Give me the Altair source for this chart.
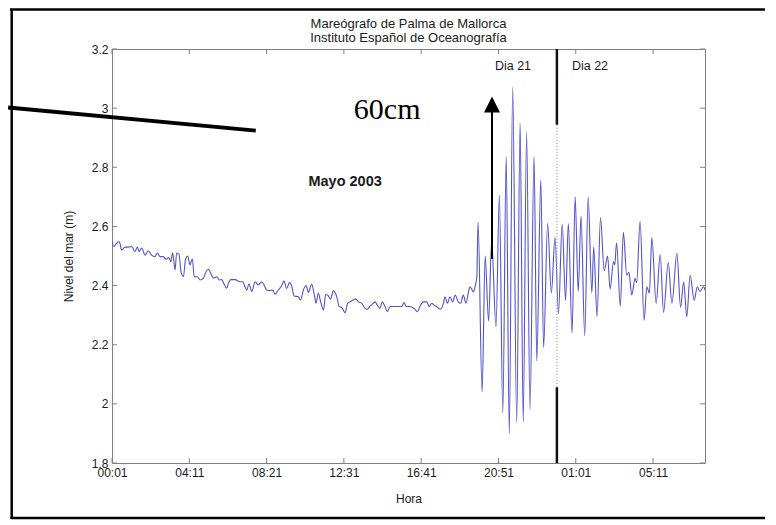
import altair as alt
import pandas as pd

# Sea level record (minutes after 00:01, level in m)
minutes = [0, 6, 15, 24, 31, 42, 53, 64, 74, 82, 88, 96, 107, 117, 128, 139, 147, 155, 166, 175,
           184, 190, 196, 204, 209, 217, 223, 231, 238, 245, 252, 260, 266, 276, 285, 295, 304, 312,
           320, 328, 339, 347, 355, 362, 371, 376, 384, 398, 414, 423, 430, 436, 443, 452, 463, 473,
           484, 492, 500, 511, 520, 527, 538, 549, 556, 565, 574, 581, 589, 603, 610, 619, 628, 635,
           646, 654, 660, 667, 675, 684, 691, 700, 707, 716, 727, 735, 743, 754, 762, 770, 781, 788,
           797, 808, 818, 826, 835, 845, 851, 858, 867, 874, 883, 891, 899, 910, 926, 937, 945, 951,
           962, 977, 988, 996, 1007, 1018, 1026, 1034, 1042, 1050, 1061, 1072, 1077, 1085, 1093,
           1102, 1110, 1120, 1128, 1136, 1145, 1153, 1158, 1169, 1174, 1180,
           1184, 1197, 1207, 1218, 1228, 1242, 1253, 1264, 1275, 1285, 1296, 1309, 1320, 1330, 1341,
           1352, 1365, 1374, 1387, 1396, 1409, 1421, 1433, 1444, 1456, 1467, 1476, 1488, 1498, 1508,
           1517, 1529, 1540, 1552, 1558, 1569, 1580, 1592, 1603, 1611, 1622, 1626, 1632, 1644, 1654,
           1665, 1672, 1681, 1692, 1697, 1708, 1721, 1730, 1738, 1746, 1760, 1773, 1784, 1799, 1811,
           1827, 1839, 1849, 1859, 1870, 1883, 1893, 1902, 1913, 1918]
level = [2.548, 2.532, 2.543, 2.548, 2.52, 2.53, 2.53, 2.532, 2.515, 2.53, 2.515, 2.527, 2.503, 2.518,
         2.503, 2.498, 2.51, 2.498, 2.498, 2.489, 2.495, 2.48, 2.511, 2.453, 2.51, 2.505, 2.447, 2.43,
         2.49, 2.50, 2.47, 2.49, 2.43, 2.43, 2.419, 2.424, 2.447, 2.455, 2.44, 2.425, 2.43, 2.419,
         2.42, 2.406, 2.391, 2.406, 2.42, 2.42, 2.413, 2.413, 2.396, 2.385, 2.406, 2.38, 2.413, 2.402,
         2.413, 2.402, 2.385, 2.383, 2.385, 2.371, 2.385, 2.40, 2.416, 2.39, 2.41, 2.40, 2.365, 2.362,
         2.351, 2.385, 2.40, 2.377, 2.405, 2.37, 2.34, 2.374, 2.345, 2.317, 2.37, 2.365, 2.354, 2.383,
         2.362, 2.329, 2.326, 2.308, 2.34, 2.345, 2.352, 2.355, 2.345, 2.34, 2.323, 2.320, 2.331, 2.34,
         2.345, 2.334, 2.323, 2.345, 2.329, 2.312, 2.329, 2.329, 2.329, 2.329, 2.343, 2.329, 2.329,
         2.323, 2.312, 2.329, 2.345, 2.345, 2.329, 2.34, 2.334, 2.329, 2.32, 2.34, 2.362, 2.34, 2.362,
         2.345, 2.368, 2.345, 2.34, 2.368, 2.34, 2.379, 2.396, 2.379, 2.396, 2.43,
         2.615, 2.04, 2.50, 2.28, 2.55, 2.26, 2.706, 1.969, 2.836, 1.90, 3.072, 1.935, 2.95, 1.94, 2.92,
         1.98, 2.836, 2.145, 2.757, 2.19, 2.61, 2.375, 2.563, 2.305, 2.608, 2.35, 2.61, 2.24, 2.70, 2.38,
         2.635, 2.23, 2.70, 2.375, 2.53, 2.295, 2.63, 2.45, 2.50, 2.388, 2.48, 2.47, 2.545, 2.33, 2.58,
         2.435, 2.445, 2.368, 2.425, 2.41, 2.617, 2.283, 2.396, 2.374, 2.562, 2.34, 2.505, 2.31, 2.478,
         2.34, 2.51, 2.327, 2.412, 2.295, 2.435, 2.35, 2.396, 2.38, 2.396, 2.385]

x_tick_values = [0, 250, 500, 750, 1000, 1250, 1500, 1750]
x_tick_labels = ["00:01", "04:11", "08:21", "12:31", "16:41", "20:51", "01:01", "05:11"]
y_tick_values = [1.8, 2.0, 2.2, 2.4, 2.6, 2.8, 3.0, 3.2]

title_lines = ["Mareógrafo de Palma de Mallorca", "Instituto Español de Oceanografía"]

# text annotations
note_t = [1297, 1546, 754]
note_v = [3.142, 3.142, 2.750]
note_text = ["Dia 21", "Dia 22", "Mayo 2003"]

# day boundary (midnight) segments
day_t = 1439
day_seg_y = [3.2, 2.944, 2.056]
day_seg_y2 = [2.944, 2.056, 1.8]

# 60 cm arrow
arrow_t = 1229
arrow_v = [2.490, 2.987]
arrow_head_v = 3.012

# slide pointer line
pointer_t = [-336, 465]
pointer_v = [3.002, 2.924]

W, H = 593, 414
XMAX = 1918
FONT = "Liberation Sans"
TXT = "#1a1a1a"
GRAY = "#808080"

xs = alt.Scale(domain=[0, XMAX], nice=False, zero=False)
ys = alt.Scale(domain=[1.8, 3.2], nice=False, zero=False)

label_expr = "[" + ",".join("'%s'" % s for s in x_tick_labels) + "][round(datum.value / 250)]"

df = pd.DataFrame({"t": minutes, "v": level})

X = lambda: alt.X("t:Q", scale=xs)
Y = lambda: alt.Y("v:Q", scale=ys)

line = alt.Chart(df).mark_line(color="#5252cc", strokeWidth=1.1, interpolate="monotone", clip=True).encode(
    x=alt.X("t:Q", scale=xs, axis=alt.Axis(values=x_tick_values, labelExpr=label_expr, tickSize=0,
                                            labelFlush=False, domain=False, grid=False, labelFont=FONT,
                                            labelFontSize=12, labelColor=TXT, labelPadding=4,
                                            title="Hora", titleFont=FONT, titleFontSize=12,
                                            titleFontWeight="normal", titleColor=TXT, titlePadding=15)),
    y=alt.Y("v:Q", scale=ys, axis=alt.Axis(values=y_tick_values, format="~g", tickSize=0, domain=False,
                                            grid=False, labelFont=FONT, labelFontSize=12, labelColor=TXT,
                                            labelPadding=4, title="Nivel del mar (m)", titleFont=FONT,
                                            titleFontSize=12, titleFontWeight="normal", titleColor=TXT,
                                            titlePadding=16)),
)

xt = pd.DataFrame({"t": x_tick_values})
yt = pd.DataFrame({"v": y_tick_values})
xtick_b = alt.Chart(xt).mark_rule(color=GRAY, strokeWidth=1).encode(
    x=X(), y=alt.value(H), y2=alt.value(H - 5))
xtick_t = alt.Chart(xt).mark_rule(color=GRAY, strokeWidth=1).encode(
    x=X(), y=alt.value(0), y2=alt.value(5))
ytick_l = alt.Chart(yt).mark_rule(color=GRAY, strokeWidth=1).encode(
    y=Y(), x=alt.value(0), x2=alt.value(5))
ytick_r = alt.Chart(yt).mark_rule(color=GRAY, strokeWidth=1).encode(
    y=Y(), x=alt.value(W), x2=alt.value(W - 5))

day_df = pd.DataFrame({"t": [day_t] * 3, "v": day_seg_y, "v2": day_seg_y2, "kind": ["solid", "dot", "solid"]})
day_solid = alt.Chart(day_df[day_df.kind == "solid"]).mark_rule(color="#111111", strokeWidth=2.5).encode(
    x=X(), y=Y(), y2="v2:Q")
day_dot = alt.Chart(day_df[day_df.kind == "dot"]).mark_rule(color="#aaaaaa", strokeWidth=1.5, strokeDash=[1, 2]).encode(
    x=X(), y=Y(), y2="v2:Q")

notes = pd.DataFrame({"t": note_t, "v": note_v, "label": note_text})
dia = alt.Chart(notes.iloc[:2]).mark_text(font=FONT, fontSize=12.5, color=TXT, align="center", baseline="middle").encode(
    x=X(), y=Y(), text="label:N")
mayo = alt.Chart(notes.iloc[2:]).mark_text(font=FONT, fontSize=14.5, fontWeight="bold", color=TXT, align="center", baseline="middle").encode(
    x=X(), y=Y(), text="label:N")

cm = alt.Chart(pd.DataFrame({"t": [890], "v": [2.994], "label": ["60cm"]})).mark_text(
    font="Liberation Serif", fontSize=30, color="#000000", align="center", baseline="middle").encode(
    x=X(), y=Y(), text="label:N")

arrow_df = pd.DataFrame({"t": [arrow_t], "v": [arrow_v[0]], "v2": [arrow_v[1]]})
arrow = alt.Chart(arrow_df).mark_rule(color="#000000", strokeWidth=2).encode(
    x=X(), y=Y(), y2="v2:Q")
head = alt.Chart(pd.DataFrame({"t": [arrow_t], "v": [arrow_head_v]})).mark_point(
    shape="M0,-1L1,1L-1,1Z", filled=True, size=256, color="#000000", opacity=1).encode(
    x=X(), y=Y())

pointer = alt.Chart(pd.DataFrame({"t": [pointer_t[0]], "t2": [pointer_t[1]], "v": [pointer_v[0]], "v2": [pointer_v[1]]})).mark_rule(
    color="#000000", strokeWidth=4).encode(
    x=X(), x2="t2:Q", y=Y(), y2="v2:Q")

# chart title drawn as text (two lines) centred over the plot area
tdf = pd.DataFrame({"label": title_lines, "row": [0, 1]})
title1 = alt.Chart(tdf.iloc[:1]).mark_text(font=FONT, fontSize=13, color=TXT, align="center", baseline="middle").encode(
    x=alt.value(W / 2), y=alt.value(-25), text="label:N")
title2 = alt.Chart(tdf.iloc[1:]).mark_text(font=FONT, fontSize=13, color=TXT, align="center", baseline="middle").encode(
    x=alt.value(W / 2), y=alt.value(-11.5), text="label:N")

one = pd.DataFrame({"a": [0]})
frame_top = alt.Chart(one).mark_rule(color="#000000", strokeWidth=2.5).encode(
    x=alt.value(-102), x2=alt.value(660), y=alt.value(-39.5))
frame_left = alt.Chart(one).mark_rule(color="#000000", strokeWidth=2.5).encode(
    x=alt.value(-100.3), y=alt.value(-40), y2=alt.value(470))
frame_bottom = alt.Chart(one).mark_rule(color="#000000", strokeWidth=2.5).encode(
    x=alt.value(-101.5), x2=alt.value(660), y=alt.value(469))

chart = alt.layer(
    line, xtick_b, xtick_t, ytick_l, ytick_r, day_dot, day_solid, dia, mayo, cm, arrow, head, pointer,
    title1, title2, frame_top, frame_left, frame_bottom
).properties(
    width=W, height=H,
    padding={"left": 104, "top": 41, "right": 60, "bottom": 58},
    autosize=alt.AutoSizeParams(type="none"),
    background="white",
).configure_view(stroke=GRAY, strokeWidth=1)

chart.save("out.html", embed_options={"renderer": "svg", "actions": False})
